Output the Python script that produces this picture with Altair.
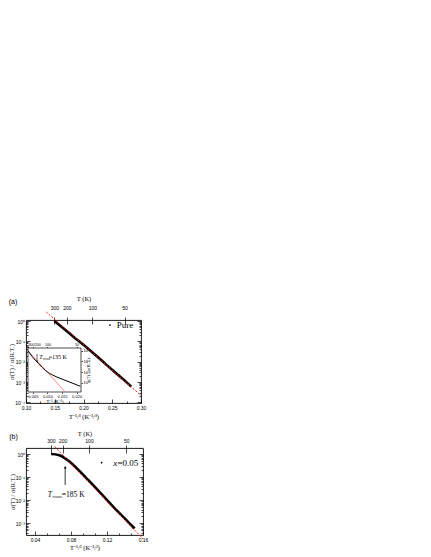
import altair as alt
import pandas as pd

# ---------------- data ----------------
# Panel (a): sigma(T)/sigma(R.T.) vs T^-1/3 (pure sample)
A_X = [0.1494, 0.159, 0.182, 0.2056, 0.2287, 0.2518, 0.2692, 0.283]
A_SIG = [1.0, 0.603, 0.174, 0.0501, 0.0135, 0.00355, 0.00135, 0.000603]
A_FIT_X = [0.135, 0.30]
A_FIT_SIG = [2.82, 0.000219]

# Panel (a) inset: same data vs 1/T
IN_X = [0.00333, 0.00467, 0.00697, 0.00924, 0.01154, 0.01498, 0.01841, 0.02126]
IN_SIG = [1.0, 0.302, 0.0617, 0.0148, 0.00575, 0.00229, 0.000977, 0.000479]
IN_FIT_X = [0.00333, 0.01611]
IN_FIT_SIG = [1.0, 0.000141]

# Panel (b): x = 0.05 sample vs T^-1/2
B_X = [0.0579, 0.0661, 0.0716, 0.0772, 0.0845, 0.0993, 0.1139, 0.1286, 0.1434, 0.1507]
B_SIG = [1.0, 0.912, 0.724, 0.513, 0.282, 0.0741, 0.0186, 0.00447, 0.00117, 0.000603]
B_FIT_X = [0.062, 0.160]
B_FIT_SIG = [2.08, 0.000214]

# axis ticks / labels
T_TICKS = [300, 200, 100, 50]
A_XMAJOR = [0.10, 0.15, 0.20, 0.25, 0.30]
A_XMINOR = [0.125, 0.175, 0.225, 0.275]
B_XMAJOR = [0.04, 0.08, 0.12, 0.16]
B_XMINOR = [0.0533, 0.0667, 0.0933, 0.1067, 0.1333, 0.1467]
IN_XMAJOR = [0.005, 0.010, 0.015, 0.020]
DECADES = [1, 0.1, 0.01, 0.001, 0.0001]
IN_DECADES = [1, 0.1, 0.01, 0.001]

# annotations (data coordinates)
A_LEG = {"x": 0.246, "y": 0.63, "tx": 0.258, "label": "Pure"}
B_LEG = {"x": 0.114, "y": 0.42, "tx": 0.1269}
B_CROSS = {"x": 185 ** -0.5, "y1": 0.0457, "y2": 0.25, "head": 0.27, "tx": 0.0543, "ty": 0.017, "label": "=185 K"}
IN_CROSS = {"x": 0.00642, "y1": 0.49, "y2": 0.11, "head": 0.095, "tx": 0.0072, "ty": 0.232, "label": "=135 K"}

# domains
A_XDOM = [0.10, 0.30]
A_YDOM = [10 ** -4.03, 10 ** 0.05]
B_XDOM = [0.03, 0.16]
B_YDOM = [10 ** -3.5, 10 ** 0.26]
IN_XDOM = [0.00333, 0.0215]
IN_YDOM = [10 ** -3.85, 10 ** 0.25]

A_W, A_H = 115, 83
B_W, B_H = 117, 87
IN_XR = [2, 55]
IN_YR = [72, 28]

SANS = "Liberation Sans"
SERIF = "Liberation Serif"

SUP = ("datum.value > 0.5 ? '10\u2070' : datum.value > 0.05 ? '10\u207b\u00b9' : "
       "datum.value > 0.005 ? '10\u207b\u00b2' : datum.value > 0.0005 ? '10\u207b\u00b3' : '10\u207b\u2074'")
LOGMAJ = "abs(log(datum.value)/LN10 - round(log(datum.value)/LN10)) < 0.001"


def cond(test, a, b):
    return {"condition": {"test": test, "value": a}, "value": b}


def log_minor(dom):
    vals = []
    for d in [1e-5, 1e-4, 1e-3, 1e-2, 1e-1, 1.0]:
        for k in range(1, 10):
            v = k * d
            if dom[0] <= v <= dom[1]:
                vals.append(v)
    return vals


def df_xy(xs, ys):
    return pd.DataFrame({"x": xs, "y": ys})


def panel(data_df, fit_df, xdom, ydom, W, H, xmajor, xminor, xmaj_test, xtitle, tpow,
          top_lpad, top_tpad, bot_lpad, bot_tpad, ttick_in):
    xsc = alt.Scale(domain=xdom, nice=False, zero=False)
    ysc = alt.Scale(type="log", domain=ydom, nice=False)
    yvals = [d for d in DECADES if ydom[0] <= d <= ydom[1]]
    yall = log_minor(ydom)
    tvals = [t ** (-1.0 / tpow) for t in T_TICKS]
    texpr = f"round(pow(datum.value, -{tpow}))"

    def L(xaxis, yaxis):
        return alt.Chart(fit_df).mark_point(opacity=0).encode(
            x=alt.X("x:Q", scale=xsc, axis=xaxis),
            y=alt.Y("y:Q", scale=ysc, axis=yaxis),
        )

    l1 = L(
        alt.Axis(orient="bottom", values=xmajor, format=".2f", tickSize=0, labelPadding=bot_lpad,
                 labelFlush=False, title=xtitle, titlePadding=bot_tpad),
        alt.Axis(orient="left", values=yvals, labelExpr=SUP, tickSize=0, labelPadding=1.5,
                 labelOverlap=False, title="\u03c3(T) / \u03c3(R.T.)", titlePadding=0),
    )
    l2 = L(
        alt.Axis(orient="top", offset=-H, values=xmajor + xminor, labels=False,
                 tickSize=cond(xmaj_test, 4, 2), title=None),
        alt.Axis(orient="right", offset=-W, values=yall, labels=False,
                 tickSize=cond(LOGMAJ, 4, 2), title=None),
    )
    l3 = L(
        alt.Axis(orient="top", values=tvals, labelExpr=texpr, tickSize=3, labelPadding=top_lpad,
                 labelFlush=False, labelOverlap=False, title="T (K)", titlePadding=top_tpad),
        alt.Axis(orient="left", offset=-W, values=yall, labels=False,
                 tickSize=cond(LOGMAJ, 4, 2), title=None),
    )
    l4 = L(
        alt.Axis(orient="bottom", offset=-H, values=tvals, labels=False, tickSize=ttick_in, title=None),
        None,
    )
    black = alt.Chart(data_df).mark_line(color="black", strokeWidth=2.6, interpolate="monotone").encode(
        x=alt.X("x:Q", scale=xsc, axis=None), y=alt.Y("y:Q", scale=ysc, axis=None))
    red = alt.Chart(fit_df).mark_line(color="#ff1a1a", strokeWidth=1, strokeDash=[2, 1.5]).encode(
        x=alt.X("x:Q", scale=xsc, axis=None), y=alt.Y("y:Q", scale=ysc, axis=None))
    return [l1, l2, l3, l4, black, red], xsc, ysc


def text_layer(df, xsc, ysc, text, size, font, style="normal", dx=0, dy=0, align="left"):
    return alt.Chart(df).mark_text(text=text, fontSize=size, font=font, fontStyle=style, dx=dx, dy=dy,
                                   align=align, baseline="middle", color="black").encode(
        x=alt.X("x:Q", scale=xsc, axis=None), y=alt.Y("y:Q", scale=ysc, axis=None))


def dot_layer(df, xsc, ysc):
    return alt.Chart(df).mark_circle(size=3, color="black", opacity=1).encode(
        x=alt.X("x:Q", scale=xsc, axis=None), y=alt.Y("y:Q", scale=ysc, axis=None))


# ---------------- panel (a) ----------------
a_layers, a_xsc, a_ysc = panel(
    df_xy(A_X, A_SIG), df_xy(A_FIT_X, A_FIT_SIG), A_XDOM, A_YDOM, A_W, A_H,
    A_XMAJOR, A_XMINOR, "abs(datum.value*20 - round(datum.value*20)) < 0.001",
    "T\u207b\u00b9/\u00b3 (K\u207b\u00b9/\u00b3)", 3, 7, 4, 2, 3, 4)

a_layers += [
    dot_layer(df_xy([A_LEG["x"]], [A_LEG["y"]]), a_xsc, a_ysc),
    text_layer(df_xy([A_LEG["tx"]], [A_LEG["y"]]), a_xsc, a_ysc, A_LEG["label"], 9, SERIF),
]
main_a = alt.layer(*a_layers).resolve_axis(x="independent", y="independent")

# inset
in_xsc = alt.Scale(domain=IN_XDOM, range=IN_XR, nice=False, zero=False)
in_ysc = alt.Scale(type="log", domain=IN_YDOM, range=IN_YR, nice=False)
box_df = pd.DataFrame({"x": [IN_XDOM[0]], "x2": [IN_XDOM[1]], "y": [IN_YDOM[0]], "y2": [IN_YDOM[1]]})
in_box = alt.Chart(box_df).mark_rect(fill="white", stroke="black", strokeWidth=0.7).encode(
    x=alt.X("x:Q", scale=in_xsc, axis=alt.Axis(
        orient="bottom", offset=IN_YR[0] - A_H, values=IN_XMAJOR, format=".3f", tickSize=1.5,
        labelFontSize=4, labelPadding=0.5, labelFlush=False, labelOverlap=False,
        title="T\u207b\u00b9 (K\u207b\u00b9)", titleFontSize=4.5, titlePadding=0)),
    x2="x2:Q",
    y=alt.Y("y:Q", scale=in_ysc, axis=alt.Axis(
        orient="right", offset=IN_XR[1] - A_W, values=IN_DECADES, labelExpr=SUP, tickSize=1.5,
        labelFontSize=4, labelPadding=0.5, labelOverlap=False,
        title="\u03c3(T) / \u03c3(R.T.)", titleFontSize=4.5, titlePadding=1, titleAngle=270)),
    y2="y2:Q",
)
in_fit_df = df_xy(IN_FIT_X, IN_FIT_SIG)
in_top = alt.Chart(in_fit_df).mark_point(opacity=0).encode(
    x=alt.X("x:Q", scale=in_xsc, axis=alt.Axis(
        orient="top", offset=-IN_YR[1], values=[1.0 / t for t in T_TICKS], labelExpr="round(1/datum.value)",
        labelAlign=cond("datum.value < 0.006", "left", "center"),
        labelOffset=cond("datum.value > 0.004 && datum.value < 0.006", 1.4, 0),
        tickSize=1.5, labelFontSize=3.6, labelPadding=0.5, labelFlush=False, labelOverlap=False, title=None)),
    y=alt.Y("y:Q", scale=in_ysc, axis=None),
)
in_black = alt.Chart(df_xy(IN_X, IN_SIG)).mark_line(color="black", strokeWidth=1, interpolate="monotone").encode(
    x=alt.X("x:Q", scale=in_xsc, axis=None), y=alt.Y("y:Q", scale=in_ysc, axis=None))
in_red = alt.Chart(in_fit_df).mark_line(color="#ff7070", strokeWidth=0.8).encode(
    x=alt.X("x:Q", scale=in_xsc, axis=None), y=alt.Y("y:Q", scale=in_ysc, axis=None))
in_arrow = alt.Chart(pd.DataFrame({"x": [IN_CROSS["x"]], "y": [IN_CROSS["y1"]], "y2": [IN_CROSS["y2"]]})).mark_rule(
    color="black", strokeWidth=0.6).encode(
    x=alt.X("x:Q", scale=in_xsc, axis=None), y=alt.Y("y:Q", scale=in_ysc, axis=None), y2="y2:Q")
in_head = alt.Chart(df_xy([IN_CROSS["x"]], [IN_CROSS["head"]])).mark_point(
    shape="triangle-down", filled=True, size=4, color="black", opacity=1).encode(
    x=alt.X("x:Q", scale=in_xsc, axis=None), y=alt.Y("y:Q", scale=in_ysc, axis=None))
in_t_df = df_xy([IN_CROSS["tx"]], [IN_CROSS["ty"]])
inset = alt.layer(
    in_box, in_top, in_red, in_black, in_arrow, in_head,
    text_layer(in_t_df, in_xsc, in_ysc, "T", 6, SERIF, "italic"),
    text_layer(in_t_df, in_xsc, in_ysc, "cross", 3.6, SERIF, dx=3.4, dy=1.6),
    text_layer(in_t_df, in_xsc, in_ysc, IN_CROSS["label"], 6, SERIF, dx=9.4),
).resolve_axis(x="independent", y="independent")

panel_a = alt.layer(main_a, inset).resolve_scale(x="independent", y="independent").properties(
    width=A_W, height=A_H,
    title=alt.TitleParams("(a)", anchor="start", frame="bounds", font=SANS, fontSize=7,
                          fontWeight="normal", offset=-10),
)

# ---------------- panel (b) ----------------
b_layers, b_xsc, b_ysc = panel(
    df_xy(B_X, B_SIG), df_xy(B_FIT_X, B_FIT_SIG), B_XDOM, B_YDOM, B_W, B_H,
    B_XMAJOR, B_XMINOR, "abs(datum.value*25 - round(datum.value*25)) < 0.001",
    "T\u207b\u00b9/\u00b2 (K\u207b\u00b9/\u00b2)", 2, 2, 2, 2, 2, 5)

b_t_df = df_xy([B_CROSS["tx"]], [B_CROSS["ty"]])
b_layers += [
    dot_layer(df_xy([B_LEG["x"]], [B_LEG["y"]]), b_xsc, b_ysc),
    text_layer(df_xy([B_LEG["tx"]], [B_LEG["y"]]), b_xsc, b_ysc, "x", 9, SERIF, "italic"),
    text_layer(df_xy([B_LEG["tx"]], [B_LEG["y"]]), b_xsc, b_ysc, "=0.05", 9, SERIF, dx=4.3),
    alt.Chart(pd.DataFrame({"x": [B_CROSS["x"]], "y": [B_CROSS["y1"]], "y2": [B_CROSS["y2"]]})).mark_rule(
        color="black", strokeWidth=0.8).encode(
        x=alt.X("x:Q", scale=b_xsc, axis=None), y=alt.Y("y:Q", scale=b_ysc, axis=None), y2="y2:Q"),
    alt.Chart(df_xy([B_CROSS["x"]], [B_CROSS["head"]])).mark_point(
        shape="triangle-up", filled=True, size=8, color="black", opacity=1).encode(
        x=alt.X("x:Q", scale=b_xsc, axis=None), y=alt.Y("y:Q", scale=b_ysc, axis=None)),
    text_layer(b_t_df, b_xsc, b_ysc, "T", 7.5, SERIF, "italic"),
    text_layer(b_t_df, b_xsc, b_ysc, "cross", 4.5, SERIF, dx=4.7, dy=2),
    text_layer(b_t_df, b_xsc, b_ysc, B_CROSS["label"], 7.5, SERIF, dx=14),
]
panel_b = alt.layer(*b_layers).resolve_axis(x="independent", y="independent").properties(
    width=B_W, height=B_H,
    title=alt.TitleParams("(b)", anchor="start", frame="bounds", font=SANS, fontSize=7,
                          fontWeight="normal", offset=-10),
)

chart = alt.vconcat(panel_a, panel_b, spacing=9).properties(
    padding={"left": 0, "top": 286, "right": 5, "bottom": 0}
).configure_axis(
    domain=False, grid=False, labelFont=SANS, labelFontSize=5, labelColor="black",
    titleFont=SERIF, titleFontSize=6.5, titleFontWeight="normal", titleColor="black",
    tickColor="black", tickWidth=0.7,
).configure_view(stroke="black", strokeWidth=0.9)

chart.save("out.html", embed_options={"renderer": "svg", "actions": False})
